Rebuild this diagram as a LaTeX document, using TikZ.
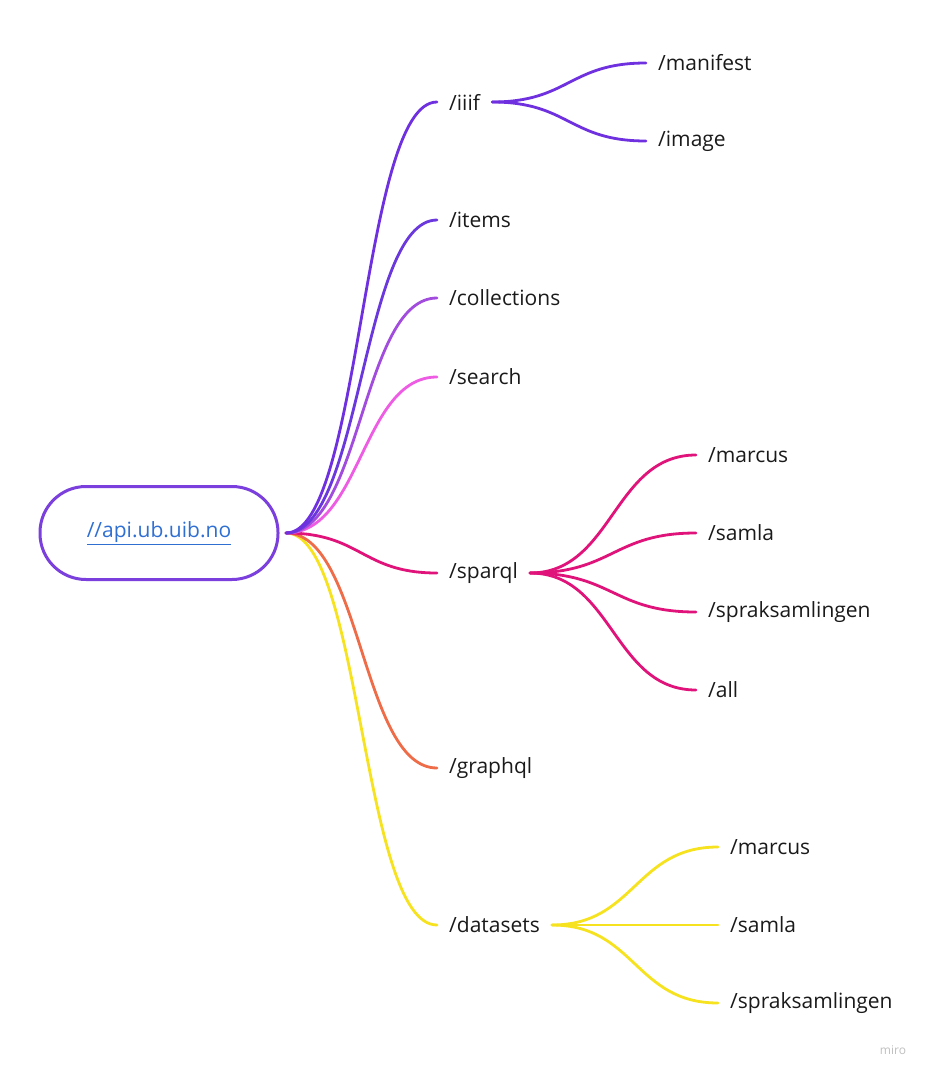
\documentclass[tikz,border=0pt]{standalone}
\usepackage{fontspec}
\setmainfont{Open Sans}
\usetikzlibrary{calc}
\definecolor{rootpurple}{HTML}{7A3FDC}
\definecolor{linkblue}{HTML}{2F6FD2}
\definecolor{iiifpurple}{HTML}{6F30E0}
\definecolor{itemspurple}{HTML}{6A38DC}
\definecolor{collviolet}{HTML}{A24CDE}
\definecolor{searchpink}{HTML}{EE5CE4}
\definecolor{sparqlmagenta}{HTML}{E0137A}
\definecolor{graphorange}{HTML}{EE6C48}
\definecolor{datayellow}{HTML}{F6E21E}
\definecolor{darktext}{HTML}{1A1A1A}

\tikzset{
  leaf/.style={anchor=west, font=\fontsize{21}{25}\selectfont, text=darktext, inner xsep=12pt, inner ysep=0pt},
  branch/.style={line width=2.8pt, line cap=round,
    to path={let \p1=(\tikztostart), \p2=(\tikztotarget) in
      .. controls ({(\x1+\x2)/2},\y1) and ({(\x1+\x2)/2},\y2) .. (\tikztotarget)}}
}

\begin{document}
\begin{tikzpicture}[x=1pt, y=-1pt]
  \useasboundingbox (0,0) rectangle (928,1076);
  % root
  \node[draw=rootpurple, line width=3pt, rounded corners=46pt, minimum width=238pt, minimum height=93pt,
        font=\fontsize{21}{25}\selectfont, text=linkblue] (api) at (159,533) {\underline{//api.ub.uib.no}};
  \coordinate (hub) at (286,533);
  % first level
  \node[leaf] (iiif) at (437,102) {/iiif};
  \node[leaf] (items) at (437,220) {/items};
  \node[leaf] (collections) at (437,298) {/collections};
  \node[leaf] (search) at (437,377) {/search};
  \node[leaf] (sparql) at (437,573) {/sparql};
  \node[leaf] (graphql) at (437,768) {/graphql};
  \node[leaf] (datasets) at (437,925) {/datasets};
  % iiif
  \node[leaf] (manifest) at (646,63) {/manifest};
  \node[leaf] (image) at (646,141) {/image};
  % sparql
  \node[leaf] (spmarcus) at (696,455) {/marcus};
  \node[leaf] (spsamla) at (696,533) {/samla};
  \node[leaf] (spsprak) at (696,612) {/spraksamlingen};
  \node[leaf] (spall) at (696,690) {/all};
  % datasets
  \node[leaf] (dsmarcus) at (718,847) {/marcus};
  \node[leaf] (dssamla) at (718,925) {/samla};
  \node[leaf] (dssprak) at (718,1003) {/spraksamlingen};
  % connectors
  \draw[branch, datayellow] (hub) to (datasets.west);
  \draw[branch, graphorange] (hub) to (graphql.west);
  \draw[branch, sparqlmagenta] (hub) to (sparql.west);
  \draw[branch, searchpink] (hub) to (search.west);
  \draw[branch, collviolet] (hub) to (collections.west);
  \draw[branch, itemspurple] (hub) to (items.west);
  \draw[branch, iiifpurple] (hub) to (iiif.west);
  \draw[branch, iiifpurple] (iiif.east) to (manifest.west);
  \draw[branch, iiifpurple] (iiif.east) to (image.west);
  \foreach \leafname in {spmarcus, spsamla, spsprak, spall}
    \draw[branch, sparqlmagenta] (sparql.east) to (\leafname.west);
  \foreach \leafname in {dsmarcus, dssamla, dssprak}
    \draw[branch, datayellow] (datasets.east) to (\leafname.west);
  % watermark
  \node[font=\fontsize{12}{14}\selectfont, text=black!25] (miro) at (893,1050) {miro};
\end{tikzpicture}
\end{document}
